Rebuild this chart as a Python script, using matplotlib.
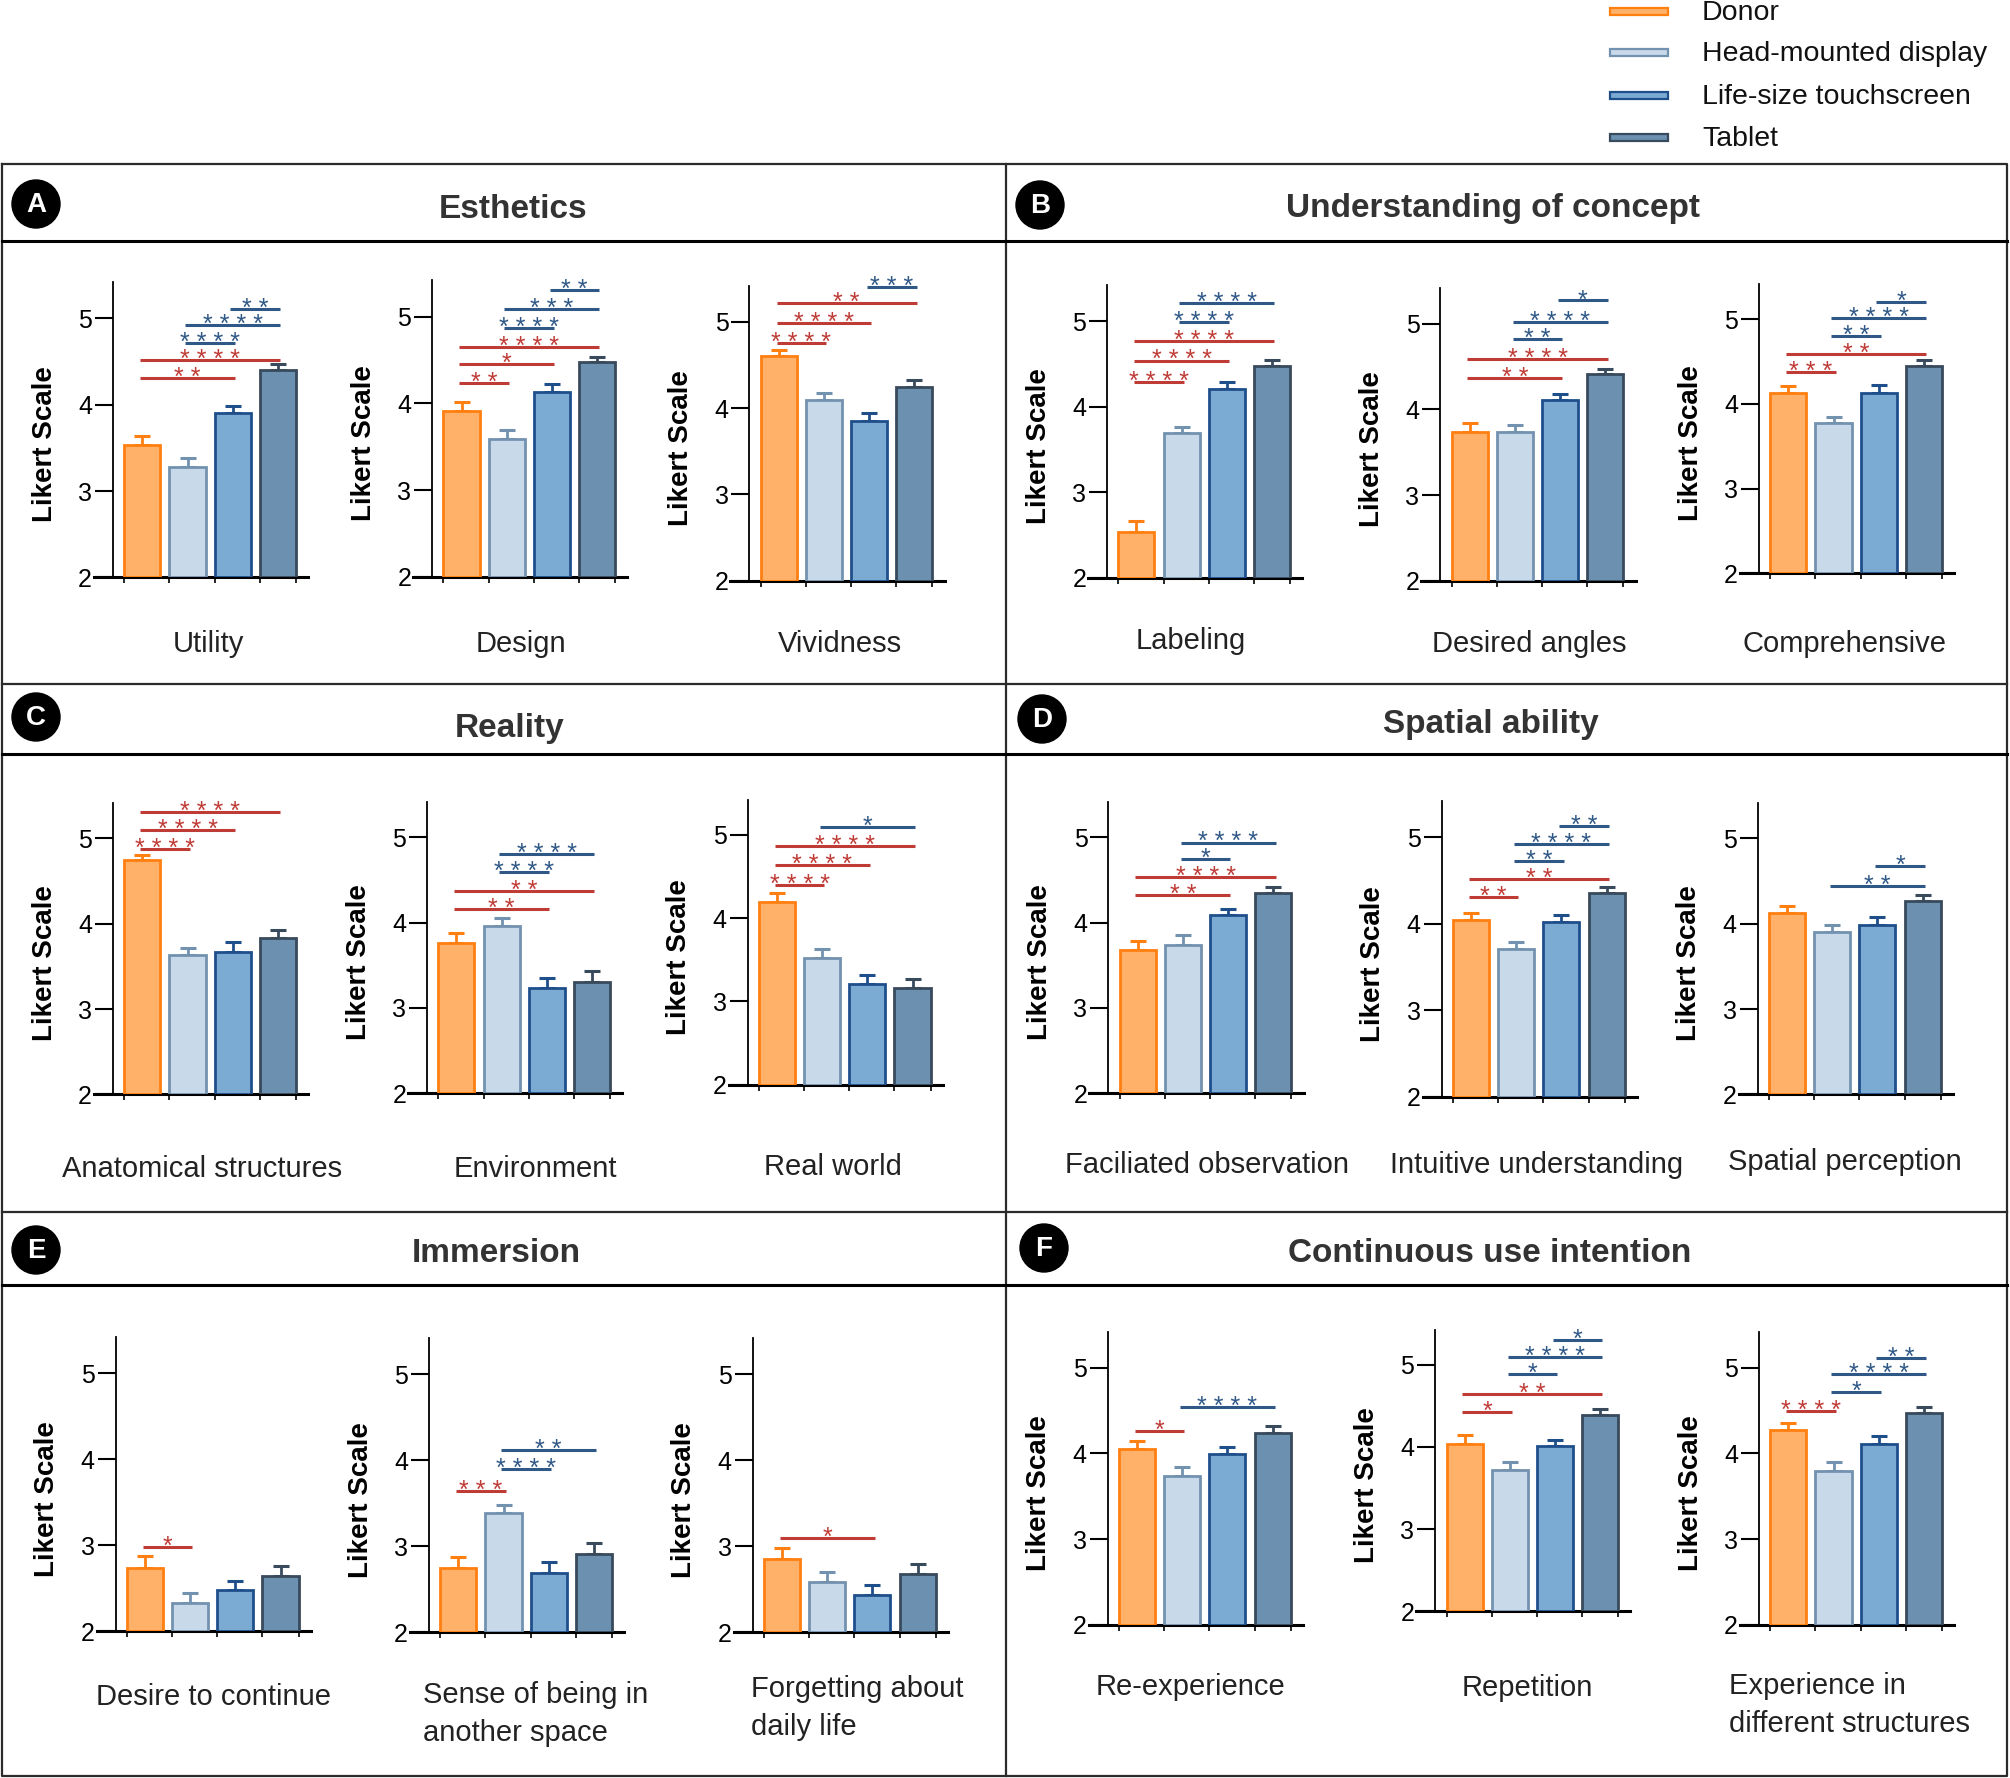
import numpy as np
import matplotlib
matplotlib.use('Agg')
import matplotlib.pyplot as plt
from matplotlib.patches import Circle, Rectangle

plt.rcParams['font.family'] = ['Liberation Sans', 'DejaVu Sans']

# groups compared in every item
groups = ['Donor', 'Head-mounted display', 'Life-size touchscreen', 'Tablet']

panel_letters = ['A', 'B', 'C', 'D', 'E', 'F']
panel_titles = ['Esthetics', 'Understanding of concept', 'Reality',
                'Spatial ability', 'Immersion', 'Continuous use intention']

items = ['Utility', 'Design', 'Vividness',
         'Labeling', 'Desired angles', 'Comprehensive',
         'Anatomical structures', 'Environment', 'Real world',
         'Faciliated observation', 'Intuitive understanding', 'Spatial perception',
         'Desire to continue', 'Sense of being in\nanother space', 'Forgetting about\ndaily life',
         'Re-experience', 'Repetition', 'Experience in\ndifferent structures']

# mean Likert score per group (Donor, HMD, Life-size, Tablet)
means = [[3.53, 3.28, 3.91, 4.40],
         [3.91, 3.59, 4.13, 4.48],
         [4.60, 4.09, 3.85, 4.25],
         [2.54, 3.69, 4.21, 4.48],
         [3.73, 3.73, 4.11, 4.41],
         [4.13, 3.77, 4.13, 4.45],
         [4.75, 3.63, 3.67, 3.83],
         [3.76, 3.96, 3.24, 3.31],
         [4.19, 3.52, 3.21, 3.16],
         [3.68, 3.74, 4.09, 4.35],
         [4.04, 3.71, 4.02, 4.36],
         [4.12, 3.90, 3.99, 4.27],
         [2.74, 2.33, 2.48, 2.64],
         [2.75, 3.38, 2.69, 2.91],
         [2.85, 2.58, 2.43, 2.67],
         [4.05, 3.74, 3.99, 4.24],
         [4.04, 3.72, 4.01, 4.39],
         [4.27, 3.80, 4.11, 4.47]]

# standard errors (upper error bar only)
sems = [[0.11, 0.10, 0.08, 0.07],
        [0.10, 0.10, 0.09, 0.06],
        [0.07, 0.09, 0.09, 0.08],
        [0.12, 0.07, 0.08, 0.07],
        [0.11, 0.09, 0.07, 0.06],
        [0.08, 0.08, 0.09, 0.07],
        [0.06, 0.09, 0.11, 0.10],
        [0.12, 0.10, 0.11, 0.12],
        [0.11, 0.11, 0.11, 0.11],
        [0.11, 0.11, 0.07, 0.07],
        [0.09, 0.08, 0.08, 0.07],
        [0.09, 0.09, 0.09, 0.07],
        [0.13, 0.12, 0.11, 0.12],
        [0.12, 0.10, 0.12, 0.12],
        [0.13, 0.12, 0.12, 0.12],
        [0.10, 0.10, 0.08, 0.08],
        [0.10, 0.10, 0.08, 0.07],
        [0.09, 0.10, 0.09, 0.07]]

# significance brackets: (group i, group j, height, stars)
sig = [[(0, 2, 4.31, '**'), (0, 3, 4.52, '****'), (1, 2, 4.72, '****'), (1, 3, 4.92, '****'), (2, 3, 5.11, '**')],
       [(0, 1, 4.24, '**'), (0, 2, 4.45, '*'), (0, 3, 4.65, '****'), (1, 2, 4.87, '****'), (1, 3, 5.09, '***'), (2, 3, 5.31, '**')],
       [(0, 1, 4.76, '****'), (0, 2, 4.99, '****'), (0, 3, 5.22, '**'), (2, 3, 5.40, '***')],
       [(0, 1, 4.29, '****'), (0, 2, 4.54, '****'), (0, 3, 4.77, '****'), (1, 2, 4.99, '****'), (1, 3, 5.21, '****')],
       [(0, 2, 4.37, '**'), (0, 3, 4.59, '****'), (1, 2, 4.82, '**'), (1, 3, 5.02, '****'), (2, 3, 5.27, '*')],
       [(0, 1, 4.37, '***'), (0, 3, 4.59, '**'), (1, 2, 4.80, '**'), (1, 3, 5.01, '****'), (2, 3, 5.20, '*')],
       [(0, 1, 4.88, '****'), (0, 2, 5.10, '****'), (0, 3, 5.31, '****')],
       [(0, 2, 4.16, '**'), (0, 3, 4.37, '**'), (1, 2, 4.59, '****'), (1, 3, 4.80, '****')],
       [(0, 1, 4.40, '****'), (0, 2, 4.64, '****'), (0, 3, 4.87, '****'), (1, 3, 5.10, '*')],
       [(0, 2, 4.32, '**'), (0, 3, 4.54, '****'), (1, 2, 4.75, '*'), (1, 3, 4.94, '****')],
       [(0, 1, 4.31, '**'), (0, 3, 4.52, '**'), (1, 2, 4.73, '**'), (1, 3, 4.92, '****'), (2, 3, 5.13, '**')],
       [(1, 3, 4.44, '**'), (2, 3, 4.68, '*')],
       [(0, 1, 2.98, '*')],
       [(0, 1, 3.64, '***'), (1, 2, 3.89, '****'), (1, 3, 4.12, '**')],
       [(0, 2, 3.09, '*')],
       [(0, 1, 4.26, '*'), (1, 3, 4.54, '****')],
       [(0, 1, 4.43, '*'), (0, 3, 4.64, '**'), (1, 2, 4.89, '*'), (1, 3, 5.09, '****'), (2, 3, 5.30, '*')],
       [(0, 1, 4.49, '****'), (1, 2, 4.72, '*'), (1, 3, 4.93, '****'), (2, 3, 5.11, '**')]]

# ---- styling / layout (pixels of the 2010x1778 canvas) ----
fills = ['#FFB16A', '#C8DAEA', '#7BAAD3', '#6B90B0']
edges = ['#FF7F11', '#7392B0', '#1F4F8B', '#384A5C']
RED = '#BF3B36'
BLUE = '#2F5886'
W, H = 2010, 1778
SP = 45.2  # bar spacing in px

# (first bar centre x, y pixel of 2, y pixel of 5)
axes_geom = [(142.3, 577.4, 318.4), (461.5, 576.7, 316.7), (778.8, 580.8, 321.9),
             (1136.4, 577.7, 321.2), (1469.7, 580.8, 323.6), (1788.3, 573.3, 319.1),
             (142.3, 1094.3, 838.4), (456.4, 1093.3, 837.4), (776.9, 1084.7, 835.0),
             (1137.7, 1093.3, 837.4), (1471.0, 1096.7, 837.4), (1787.0, 1094.3, 838.4),
             (144.9, 1631.3, 1373.3), (458.3, 1632.0, 1374.0), (782.0, 1632.0, 1374.4),
             (1137.0, 1624.7, 1367.7), (1464.6, 1611.4, 1364.8), (1788.3, 1624.7, 1367.7)]

label_pos = [(208, 644, 'center'), (521, 644, 'center'), (840, 644, 'center'),
             (1191, 641, 'center'), (1529, 644, 'center'), (1845, 644, 'center'),
             (202, 1169, 'center'), (535, 1169, 'center'), (833, 1167, 'center'),
             (1207, 1165, 'center'), (1537, 1165, 'center'), (1845, 1162, 'center'),
             (213, 1697, 'center'), (423, 1714, 'left'), (751, 1708, 'left'),
             (1191, 1687, 'center'), (1527, 1688, 'center'), (1729, 1705, 'left')]

circle_pos = [(36, 204), (1040, 205), (36, 717), (1042, 719), (36, 1250), (1044, 1248)]
title_pos = [(513, 210), (1493, 208), (510, 729), (1491, 725), (496, 1254), (1490, 1254)]

fig = plt.figure(figsize=(W / 100, H / 100), dpi=100)

bg = fig.add_axes([0, 0, 1, 1], zorder=-1)
bg.set_xlim(0, W)
bg.set_ylim(H, 0)
bg.axis('off')

# frame and separators
frame = '#2b2b2b'
bg.plot([2, 2007, 2007, 2, 2], [164, 164, 1776, 1776, 164], color=frame, lw=1.6)
bg.plot([1006, 1006], [164, 1776], color=frame, lw=1.6)
for y in [684, 1212]:
    bg.plot([2, 2007], [y, y], color=frame, lw=1.6)
for y in [241, 754, 1285]:
    bg.plot([2, 2007], [y, y], color='black', lw=2.2)

for (cx, cy), letter in zip(circle_pos, panel_letters):
    bg.add_patch(Circle((cx, cy), 24, color='black'))
    bg.text(cx, cy + 1, letter, color='white', fontsize=20, fontweight='bold',
            ha='center', va='center')
for (tx, ty), title in zip(title_pos, panel_titles):
    bg.text(tx, ty, title, fontsize=24, fontweight='bold', color='#333333',
            ha='center', va='center')

# legend
leg_y = [11, 52, 95, 137]
for g, y, fc, ec in zip(groups, leg_y, fills, edges):
    bg.add_patch(Rectangle((1610, y - 3.5), 58, 7, facecolor=fc, edgecolor=ec, lw=1.6))
    bg.text(1702, y + 2, g, fontsize=20.5, ha='left', va='center', color='#111111')

x = np.arange(4)
for k, (c0, y2, y5) in enumerate(axes_geom):
    unit = (y2 - y5) / 3
    left = c0 - 1.07 * SP
    ax = fig.add_axes([left / W, 1 - y2 / H, 4.74 * SP / W, 3.42 * unit / H])
    ax.set_xlim(-1.07, 3.67)
    ax.set_ylim(2, 5.42)
    ax.patch.set_alpha(0)
    for i in range(4):
        ax.bar(x[i], means[k][i] - 2, bottom=2, width=0.8, color=fills[i],
               edgecolor=edges[i], linewidth=2, zorder=3)
        ax.errorbar(x[i], means[k][i], yerr=[[0], [sems[k][i]]], fmt='none',
                    ecolor=edges[i], elinewidth=2, capsize=6, capthick=2.2, zorder=2)
    for i, j, y, s in sig[k]:
        col = RED if i == 0 else BLUE
        ax.plot([i - 0.05, j + 0.05], [y, y], color=col, lw=2.2, clip_on=False,
                solid_capstyle='butt', zorder=4)
        ax.annotate(' '.join(s), xy=((i + j) / 2, y), xytext=(0, -5),
                    textcoords='offset points', ha='center', va='baseline',
                    color=col, fontsize=18, annotation_clip=False)

    ax.spines['top'].set_visible(False)
    ax.spines['right'].set_visible(False)
    ax.spines['left'].set_position(('data', -0.65))
    ax.spines['left'].set_linewidth(1.3)
    ax.spines['bottom'].set_linewidth(2.2)
    ax.set_yticks([2, 3, 4, 5])
    ax.tick_params(axis='y', length=13, width=1.5, labelsize=18, pad=2)
    ax.set_xticks([-0.4, 0.6, 1.6, 2.6, 3.4])
    ax.set_xticklabels([])
    ax.tick_params(axis='x', length=4, width=1.2)
    ax.set_ylabel('Likert Scale', fontsize=20, fontweight='bold')
    ax.yaxis.set_label_coords(-0.17, 0.45)

    lx, ly, ha = label_pos[k]
    bg.text(lx, ly, items[k], fontsize=21, ha=ha, va='center', color='#222222',
            linespacing=1.45)

fig.savefig('out.png', dpi=100)
